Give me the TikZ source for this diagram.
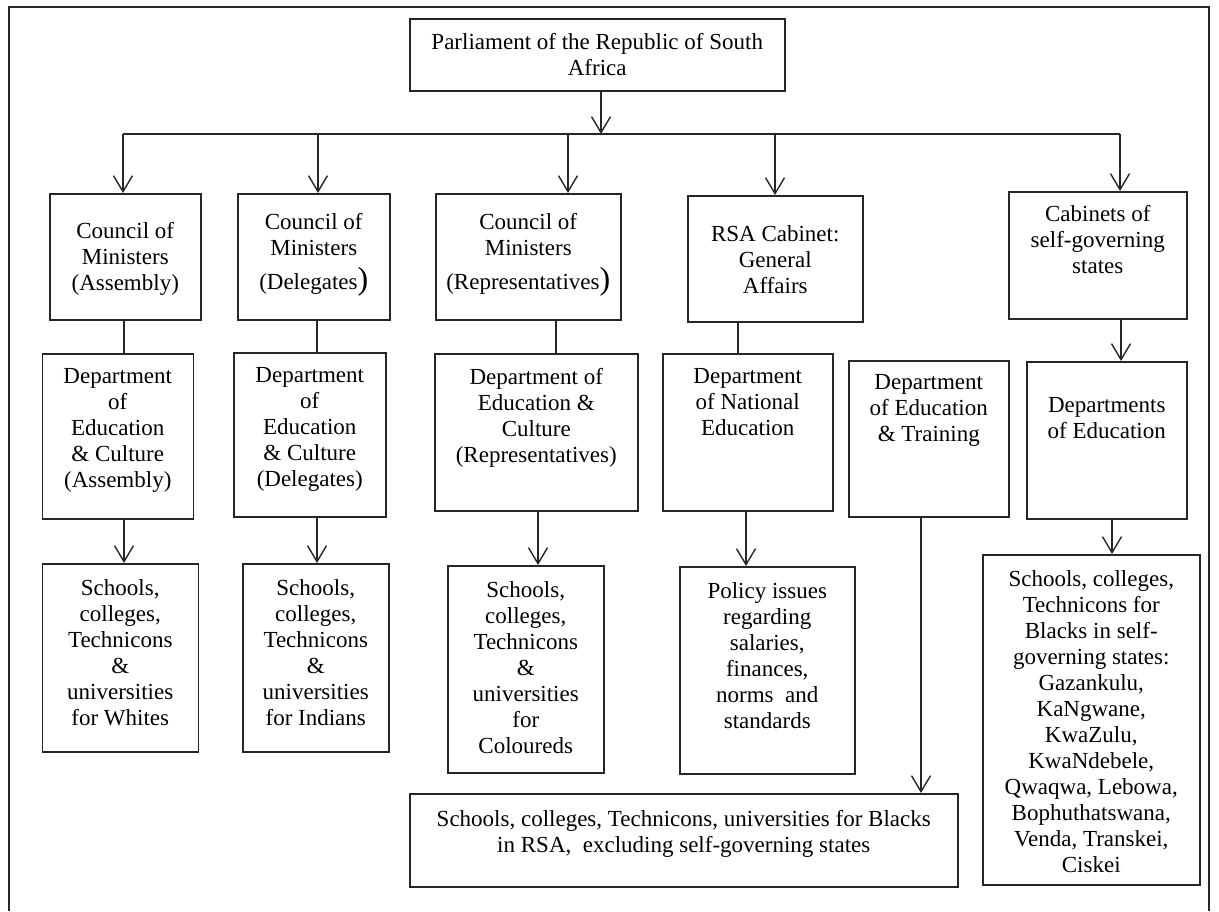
\documentclass[tikz,border=0pt]{standalone}
\usepackage{fontspec}
\setmainfont{Liberation Serif}
\usetikzlibrary{arrows.meta}

% Textblock mit fester Breite/Hoehe, oben ausgerichtet
\newcommand{\boxtxt}[4]{\parbox[c][#2][t]{#1}{\centering\vspace*{#3}#4\par}}
\newcommand{\bigparen}{{\fontsize{16pt}{16pt}\selectfont)}}

\begin{document}
\begin{tikzpicture}[x=0.5pt, y=-0.5pt,
  blk/.style={draw=black!85, line width=0.75pt, inner sep=0pt, anchor=north west,
              font=\fontsize{11.5pt}{13pt}\selectfont},
  arr/.style={draw=black!85, line width=0.7pt, -{Straight Barb[length=8pt,width=9.5pt]}},
  lnk/.style={draw=black!85, line width=0.7pt}]

\useasboundingbox (0,0) rectangle (1219,911);

% ── Rahmen ───────────────────────────────────────────────────────────
\draw[lnk] (9,911) -- (9,7) -- (1209,7) -- (1209,911);

% ── Parlament ────────────────────────────────────────────────────────
\node[blk] (par) at (409,18)
  {\boxtxt{187.5pt}{36pt}{7.3pt}{Parliament of the Republic of South\\Africa}};

% ── Ministerraete / Kabinette ────────────────────────────────────────
\node[blk] (cm1) at (49,193)
  {\boxtxt{75.5pt}{63pt}{14.3pt}{Council of\\Ministers\\(Assembly)}};
\node[blk] (cm2) at (237,193)
  {\boxtxt{76pt}{63pt}{10pt}{Council of\\Ministers\\[4pt](Delegates\bigparen}};
\node[blk] (cm3) at (435,193)
  {\boxtxt{92.5pt}{63pt}{10pt}{Council of\\Ministers\\[4pt](Representatives\bigparen}};
\node[blk] (cab) at (687,195)
  {\boxtxt{87.5pt}{63pt}{15pt}{RSA Cabinet:\\General\\Affairs}};
\node[blk] (cabsg) at (1008,191)
  {\boxtxt{89pt}{63.5pt}{7pt}{Cabinets of\\self-governing\\states}};

% ── Departements ─────────────────────────────────────────────────────
\node[blk] (dep1) at (41.5,353)
  {\boxtxt{75.5pt}{82.5pt}{7.5pt}{Department\\of\\Education\\\& Culture\\(Assembly)}};
\node[blk] (dep2) at (233,352)
  {\boxtxt{76pt}{82pt}{7.5pt}{Department\\of\\Education\\\& Culture\\(Delegates)}};
\node[blk] (dep3) at (434,353)
  {\boxtxt{101.5pt}{78.5pt}{7.5pt}{Department of\\Education \&\\Culture\\(Representatives)}};
\node[blk] (dep4) at (662,353)
  {\boxtxt{85pt}{78.5pt}{7.5pt}{Department\\of National\\Education}};
\node[blk] (dep5) at (848,360)
  {\boxtxt{80pt}{78pt}{7pt}{Department\\of Education\\\& Training}};
\node[blk] (dep6) at (1026,361)
  {\boxtxt{80pt}{78.5pt}{18pt}{Departments\\of Education}};

% ── Einrichtungen ────────────────────────────────────────────────────
\node[blk] (sch1) at (41.5,563)
  {\boxtxt{78pt}{94pt}{8pt}{Schools,\\colleges,\\Technicons\\\&\\universities\\for Whites}};
\node[blk] (sch2) at (242,563)
  {\boxtxt{73pt}{94pt}{8pt}{Schools,\\colleges,\\Technicons\\\&\\universities\\for Indians}};
\node[blk] (sch3) at (447,565)
  {\boxtxt{78pt}{103.5pt}{8pt}{Schools,\\colleges,\\Technicons\\\&\\universities\\for\\Coloureds}};
\node[blk] (pol) at (679,566)
  {\boxtxt{87.5pt}{103.5pt}{8pt}{Policy issues\\regarding\\salaries,\\finances,\\norms\ \ and\\standards}};
\node[blk] (schrsa) at (409,793)
  {\boxtxt{274pt}{46.5pt}{8.5pt}{Schools, colleges, Technicons, universities for Blacks\\in RSA,\ \ excluding self-governing states}};
\node[blk] (schsg) at (982,554)
  {\boxtxt{108.5pt}{165pt}{8pt}{Schools, colleges,\\Technicons for\\Blacks in self-\\governing states:\\Gazankulu,\\KaNgwane,\\KwaZulu,\\KwaNdebele,\\Qwaqwa, Lebowa,\\Bophuthatswana,\\Venda, Transkei,\\Ciskei}};

% ── Verbindungen ─────────────────────────────────────────────────────
\coordinate (bar) at (601,134);
\draw[arr] (par.south -| bar) -- (bar);
\draw[lnk] (bar -| 123,0) -- (bar -| 1120,0);
\foreach \t/\x in {cm1/123, cm2/318, cm3/568, cab/775, cabsg/1120}
  \draw[arr] (bar -| \x,0) -- (\t.north -| \x,0);

\foreach \s/\t/\x in {cm1/dep1/124, cm2/dep2/317, cm3/dep3/556, cab/dep4/738}
  \draw[lnk] (\s.south -| \x,0) -- (\t.north -| \x,0);

\foreach \s/\t/\x in {cabsg/dep6/1121, dep1/sch1/124, dep2/sch2/317, dep3/sch3/538,
                      dep4/pol/746, dep5/schrsa/921, dep6/schsg/1112}
  \draw[arr] (\s.south -| \x,0) -- (\t.north -| \x,0);

\end{tikzpicture}
\end{document}
